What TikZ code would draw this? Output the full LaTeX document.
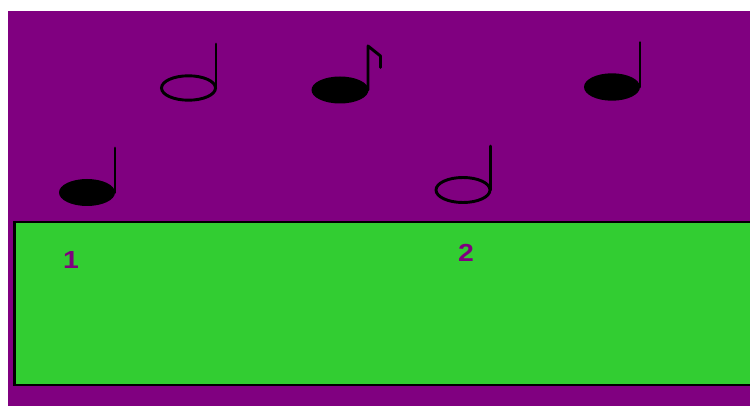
\documentclass[tikz,border=0pt]{standalone}
\usepackage{fontspec}
\setmainfont{Liberation Sans}
\definecolor{bgpurple}{HTML}{800080}
\definecolor{lgreen}{HTML}{32CD32}
\begin{document}
\begin{tikzpicture}[x=0.75pt,y=-0.75pt,
  stemline/.style={line width=2.2pt,line cap=round},
  openhead/.style={draw=black,line width=2.2pt},
  filledhead/.style={fill=black},
  numlabel/.style={text=bgpurple,font=\fontsize{18.5}{20}\selectfont\bfseries,inner sep=0pt,xscale=1.15}]
\useasboundingbox (0,0) rectangle (750,406);
\fill[white] (0,0) rectangle (750,406);
\fill[bgpurple] (7.5,11.5) rectangle (750,406);
\draw[fill=lgreen,line width=2pt] (752,222) -- (14.5,222) -- (14.5,385) -- (752,385);
% half note top-left
\draw[openhead] (188.5,88) ellipse [x radius=27,y radius=12.2];
\coordinate (s1a) at (216,88); \coordinate (s1b) at (216,44);
\draw[stemline] (s1a) -- (s1b);
% eighth note
\fill[filledhead] (340,90) ellipse [x radius=28.5,y radius=13.5];
\coordinate (s2a) at (368,90); \coordinate (s2b) at (368,46);
\coordinate (s2c) at (380.5,56); \coordinate (s2d) at (380.5,67.5);
\draw[stemline,line join=round] (s2a) -- (s2b) -- (s2c) -- (s2d);
% quarter note top right
\fill[filledhead] (612,87) ellipse [x radius=28,y radius=13.7];
\coordinate (s3a) at (640,87); \coordinate (s3b) at (640,42.5);
\draw[stemline] (s3a) -- (s3b);
% quarter note left
\fill[filledhead] (87,192.5) ellipse [x radius=28,y radius=13.5];
\coordinate (s4a) at (115,192.5); \coordinate (s4b) at (115,148);
\draw[stemline] (s4a) -- (s4b);
% half note middle
\draw[openhead] (463,190) ellipse [x radius=27,y radius=12.5];
\coordinate (s5a) at (490.5,190); \coordinate (s5b) at (490.5,146);
\draw[stemline] (s5a) -- (s5b);
% labels
\node[numlabel] (one) at (71,260.5) {1};
\node[numlabel] (two) at (466,253) {2};
\end{tikzpicture}
\end{document}
